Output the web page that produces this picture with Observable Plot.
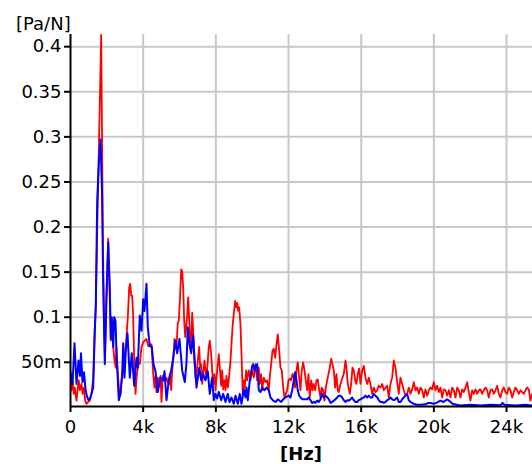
<!DOCTYPE html>
<html><head><meta charset="utf-8">
<script src="https://cdn.jsdelivr.net/npm/d3@7"></script>
<script src="https://cdn.jsdelivr.net/npm/@observablehq/plot@0.6"></script>
<style>body{margin:0;background:#fff}</style>
</head><body><div id="chart"></div>
<script>
const yLabel = "[Pa/N]";
const xLabel = "[Hz]";
const xTicks = [0, 4000, 8000, 12000, 16000, 20000, 24000];
const yTicks = [0.05, 0.1, 0.15, 0.2, 0.25, 0.3, 0.35, 0.4];

const redFreq = [0,55,110,182,237,330,402,457,512,605,660,732,809,881,974,1062,1156,1249,1321,1393,1470,1558,1690,1778,1844,1899,1981,2075,2163,2218,2295,2367,2422,2493,2532,2603,2680,2752,2824,2901,2989,3082,3154,3231,3286,3341,3396,3451,3506,3578,3633,3726,3814,3908,4001,4089,4183,4277,4365,4458,4552,4623,4678,4733,4805,4860,4954,5009,5080,5135,5229,5284,5355,5410,5465,5542,5597,5653,5724,5779,5834,5906,5961,6016,6093,6148,6203,6258,6313,6368,6423,6478,6533,6588,6643,6698,6753,6808,6880,6935,7006,7084,7139,7194,7249,7304,7375,7430,7485,7557,7612,7667,7744,7799,7854,7926,7981,8036,8107,8162,8217,8295,8350,8405,8476,8531,8586,8658,8735,8806,8862,8917,8988,9065,9120,9175,9230,9285,9357,9412,9483,9538,9593,9670,9726,9814,9907,10001,10089,10182,10276,10364,10419,10496,10551,10639,10733,10826,10914,10969,11046,11118,11190,11267,11338,11410,11487,11558,11630,11707,11778,11850,11927,11999,12070,12147,12219,12290,12367,12439,12510,12588,12659,12730,12808,12879,12951,13028,13099,13171,13248,13320,13391,13468,13540,13611,13689,13760,13831,13909,13980,14052,14129,14200,14272,14349,14420,14492,14569,14640,14712,14767,14861,14954,15042,15136,15191,15262,15372,15449,15521,15592,15669,15741,15812,15890,15961,16055,16143,16237,16330,16418,16512,16605,16693,16787,16880,16968,17062,17156,17244,17337,17431,17519,17613,17706,17794,17888,17981,18069,18163,18257,18345,18438,18532,18620,18714,18807,18895,18989,19082,19170,19264,19357,19445,19539,19633,19721,19814,19908,19996,20090,20183,20271,20365,20458,20546,20640,20733,20821,20915,21009,21097,21190,21284,21372,21466,21559,21647,21741,21834,21922,22016,22110,22198,22291,22385,22473,22566,22660,22748,22842,22935,23023,23117,23211,23299,23392,23486,23574,23667,23761,23849,23942,24036,24124,24218,24312,24400,24493,24587,24675,24768,24862,24950,25043,25137,25225,25318,25412];
const redVal = [0.026,0.019,0.033,0.015,0.022,0.0075,0.022,0.030,0.019,0.026,0.015,0.022,0.0075,0.004,0.006,0.0075,0.015,0.033,0.078,0.110,0.196,0.284,0.413,0.196,0.090,0.055,0.130,0.187,0.122,0.074,0.090,0.063,0.052,0.044,0.067,0.037,0.019,0.015,0.033,0.048,0.055,0.078,0.100,0.133,0.137,0.124,0.124,0.100,0.052,0.015,0.033,0.048,0.048,0.067,0.072,0.074,0.076,0.068,0.070,0.070,0.037,0.022,0.035,0.017,0.033,0.026,0.035,0.006,0.035,0.033,0.030,0.033,0.028,0.026,0.037,0.019,0.041,0.052,0.076,0.074,0.067,0.094,0.096,0.116,0.153,0.151,0.133,0.096,0.078,0.089,0.102,0.122,0.096,0.078,0.067,0.105,0.085,0.055,0.033,0.037,0.052,0.067,0.044,0.048,0.026,0.037,0.052,0.041,0.033,0.052,0.067,0.074,0.059,0.041,0.026,0.037,0.019,0.033,0.048,0.059,0.044,0.024,0.041,0.020,0.030,0.019,0.035,0.022,0.035,0.052,0.070,0.089,0.104,0.118,0.111,0.116,0.107,0.111,0.092,0.059,0.013,0.030,0.022,0.041,0.030,0.041,0.030,0.041,0.033,0.048,0.030,0.044,0.026,0.037,0.019,0.033,0.028,0.030,0.019,0.033,0.048,0.063,0.065,0.055,0.070,0.081,0.063,0.044,0.041,0.022,0.011,0.015,0.019,0.030,0.032,0.030,0.037,0.033,0.022,0.041,0.050,0.033,0.019,0.041,0.050,0.041,0.030,0.019,0.037,0.011,0.030,0.019,0.026,0.019,0.030,0.031,0.019,0.011,0.022,0.019,0.0075,0.022,0.030,0.037,0.044,0.054,0.048,0.041,0.022,0.037,0.019,0.017,0.026,0.032,0.037,0.052,0.044,0.026,0.015,0.026,0.044,0.041,0.030,0.026,0.037,0.043,0.026,0.041,0.046,0.033,0.026,0.033,0.026,0.015,0.022,0.017,0.019,0.024,0.022,0.026,0.019,0.022,0.024,0.011,0.026,0.033,0.052,0.044,0.028,0.015,0.033,0.026,0.019,0.013,0.015,0.022,0.015,0.020,0.028,0.019,0.022,0.015,0.022,0.019,0.011,0.020,0.013,0.019,0.022,0.020,0.028,0.019,0.024,0.017,0.022,0.011,0.020,0.019,0.013,0.019,0.011,0.022,0.019,0.011,0.022,0.019,0.011,0.020,0.017,0.022,0.028,0.017,0.0075,0.019,0.015,0.020,0.015,0.019,0.020,0.015,0.019,0.022,0.019,0.011,0.019,0.020,0.015,0.019,0.024,0.015,0.011,0.019,0.022,0.017,0.015,0.022,0.019,0.011,0.017,0.022,0.019,0.015,0.019,0.017,0.015,0.019,0.022,0.020,0.0075,0.015];

const blueFreq = [0,110,220,330,440,523,578,660,743,826,908,991,1073,1156,1249,1337,1393,1470,1569,1651,1734,1789,1888,1981,2075,2163,2218,2273,2350,2405,2477,2532,2587,2658,2752,2846,2901,2972,3044,3137,3264,3374,3506,3633,3704,3814,3908,4001,4073,4183,4255,4365,4475,4568,4678,4805,4954,5102,5174,5284,5410,5542,5653,5779,5873,5999,6148,6291,6385,6456,6550,6643,6753,6841,6935,7084,7194,7304,7430,7557,7667,7799,7887,7981,8074,8162,8295,8405,8531,8658,8751,8862,8988,9082,9208,9318,9412,9538,9632,9687,9759,9869,10001,10056,10127,10182,10276,10364,10458,10551,10678,10788,10914,11008,11157,11283,11410,11597,11707,11834,12015,12109,12202,12290,12356,12439,12510,12588,12659,12769,12879,13028,13116,13210,13303,13391,13485,13578,13666,13760,13853,13941,14035,14145,14217,14310,14404,14492,14586,14679,14767,14861,14954,15042,15136,15229,15317,15411,15504,15592,15686,15780,15868,15961,16143,16237,16330,16418,16512,16605,16693,16787,16891,16968,17062,17156,17244,17337,17431,17519,17613,17706,17794,17888,17981,18069,18163,18257,18345,18438,18532,18620,18714,18807,18895,19044,19264,19539,19704,19814,19979,20145,20365,20530,20733,20860,21025,21245,21466,22016,22566,23117,23667,23777,23887,24493,25043,25428];
const blueVal = [0.039,0.026,0.071,0.026,0.052,0.035,0.060,0.028,0.039,0.020,0.012,0.008,0.010,0.015,0.022,0.085,0.115,0.229,0.275,0.297,0.240,0.150,0.048,0.120,0.183,0.133,0.076,0.100,0.067,0.100,0.096,0.060,0.037,0.008,0.015,0.037,0.071,0.033,0.063,0.082,0.033,0.060,0.024,0.055,0.044,0.102,0.085,0.120,0.107,0.137,0.089,0.068,0.067,0.048,0.040,0.017,0.033,0.030,0.040,0.008,0.030,0.041,0.055,0.074,0.060,0.076,0.041,0.028,0.050,0.089,0.070,0.060,0.080,0.050,0.022,0.044,0.030,0.037,0.030,0.040,0.015,0.033,0.008,0.015,0.010,0.017,0.008,0.015,0.006,0.015,0.006,0.011,0.004,0.013,0.004,0.015,0.004,0.020,0.011,0.022,0.008,0.030,0.046,0.048,0.041,0.046,0.048,0.019,0.017,0.022,0.019,0.022,0.019,0.011,0.0075,0.006,0.009,0.006,0.009,0.011,0.013,0.011,0.019,0.030,0.039,0.030,0.019,0.013,0.011,0.009,0.009,0.009,0.011,0.008,0.005,0.006,0.005,0.0075,0.006,0.009,0.015,0.011,0.013,0.011,0.009,0.005,0.006,0.0075,0.009,0.011,0.013,0.013,0.011,0.008,0.006,0.008,0.0075,0.009,0.011,0.008,0.006,0.006,0.008,0.009,0.011,0.013,0.011,0.013,0.011,0.011,0.015,0.013,0.011,0.008,0.006,0.006,0.005,0.006,0.008,0.009,0.011,0.009,0.008,0.009,0.011,0.006,0.006,0.009,0.011,0.013,0.015,0.008,0.006,0.005,0.004,0.003,0.003,0.0035,0.005,0.005,0.004,0.005,0.0075,0.006,0.009,0.007,0.004,0.003,0.002,0.003,0.002,0.003,0.0025,0.005,0.003,0.002,0.003,0.002];

const red = redFreq.map((f, i) => ({f, v: redVal[i]}));
const blue = blueFreq.map((f, i) => ({f, v: blueVal[i]}));

const fmtX = d => d === 0 ? "0" : (d / 1000) + "k";
const fmtY = d => d < 0.1 ? Math.round(d * 1000) + "m" : String(+d.toFixed(2));

const chart = Plot.plot({
  width: 532, height: 464,
  marginLeft: 70, marginRight: 0, marginTop: 34, marginBottom: 58,
  x: {domain: [0, 25430]},
  y: {domain: [0.001, 0.4135]},
  style: {fontFamily: "DejaVu Sans", fontSize: "18px", background: "white", color: "black", overflow: "visible"},
  marks: [
    Plot.gridX(xTicks.filter(d => d > 0), {stroke: "#c8c8c8", strokeOpacity: 1, strokeWidth: 2}),
    Plot.gridY(yTicks, {stroke: "#c8c8c8", strokeOpacity: 1, strokeWidth: 2}),
    Plot.line(red, {x: "f", y: "v", stroke: "#ff0000", strokeWidth: 1.8, clip: true}),
    Plot.line(blue, {x: "f", y: "v", stroke: "#0000ff", strokeWidth: 2, clip: true}),
    Plot.ruleX([0], {stroke: "black", strokeWidth: 2}),
    Plot.ruleY([0.001], {stroke: "black", strokeWidth: 2}),
    Plot.axisX(xTicks, {tickSize: 6, tickPadding: 8, tickFormat: fmtX, fontSize: 18, label: null, strokeWidth: 2}),
    Plot.axisY(yTicks, {tickSize: 6, tickPadding: 3, tickFormat: fmtY, fontSize: 18, label: null, strokeWidth: 2})
  ]
});

const svg = d3.select(chart);
svg.append("text").attr("x", 16).attr("y", 30).attr("font-size", 18).attr("fill", "black")
  .attr("text-anchor", "start").text(yLabel);
svg.append("text").attr("x", 301).attr("y", 460).attr("font-size", 18).attr("font-weight", "bold")
  .attr("text-anchor", "middle").attr("fill", "black").text(xLabel);

document.getElementById("chart").appendChild(chart);
</script>
</body></html>
